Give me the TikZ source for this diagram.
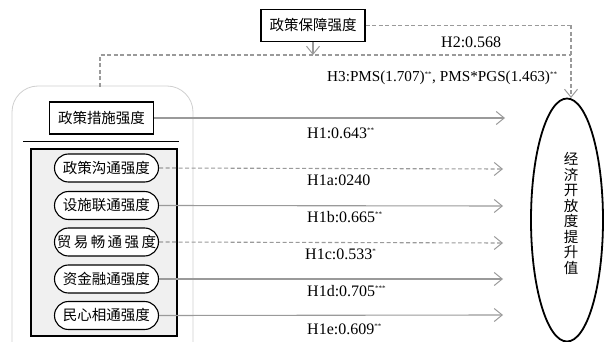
\documentclass[tikz,border=0pt]{standalone}
\usepackage{fontspec}
\setmainfont{Liberation Serif}
\newfontfamily\cjk{Noto Sans CJK SC}
\usetikzlibrary{arrows.meta,shapes.misc,shapes.geometric}
\definecolor{conncol}{HTML}{9A9A9A}
\definecolor{panelfill}{HTML}{F0F0F0}
\definecolor{outerline}{HTML}{CFCFCF}
\newcommand{\sups}[1]{\textsuperscript{\scriptsize #1}}
\tikzset{
  conn/.style={draw=conncol, line width=1.1pt, -{Straight Barb[length=8pt,width=13pt,line width=1pt]}},
  dconn/.style={conn, dash pattern=on 4pt off 2.5pt},
  dline/.style={draw=conncol, line width=1.1pt, dash pattern=on 4pt off 2.5pt},
  sqbox/.style={draw=black, line width=1.1pt, fill=white, minimum width=104pt, minimum height=32pt, inner sep=2pt, font=\cjk\fontsize{14.5}{16}\selectfont},
  pill/.style={draw=black, line width=1.1pt, fill=white, rounded rectangle, minimum width=106pt, minimum height=28pt, inner sep=1pt, font=\cjk\fontsize{14.5}{16}\selectfont},
  lab/.style={font=\fontsize{16}{18}\selectfont, inner sep=0pt}
}
\begin{document}
\begin{tikzpicture}[x=1pt,y=-1pt]
\useasboundingbox (0,0) rectangle (606,342);
% outer rounded panel
\draw[outerline, line width=0.8pt, rounded corners=26pt] (12,86) rectangle (193,370);
% separator line
\draw[black, line width=1pt] (23,142) -- (179,142);
% grey panel
\draw[black, line width=1.5pt, fill=panelfill] (31,149) rectangle (177,336);

\node[sqbox] (pgs) at (313,25.5) {政策保障强度};
\node[sqbox] (pms) at (101.5,118) {政策措施强度};

\node[pill] (p1) at (106.5,168) {政策沟通强度};
\node[pill] (p2) at (106.5,205.5) {设施联通强度};
\node[pill] (p3) at (106.5,242) {贸\,易\,畅\,通\,强\,度};
\node[pill] (p4) at (106.5,279) {资金融通强度};
\node[pill] (p5) at (106.5,315.5) {民心相通强度};

\node[draw=black, line width=1.8pt, ellipse, minimum width=72pt, minimum height=243pt, inner sep=0pt] (eco) at (567,220) {};
\node[font=\cjk\fontsize{14.5}{16}\selectfont, align=center, inner sep=0pt] (ecot) at (571,213.5)
  {经\\[-0.5pt]济\\[-0.5pt]开\\[-0.5pt]放\\[-0.5pt]度\\[-0.5pt]提\\[-0.5pt]升\\[-0.5pt]值};

% coordinates for connectors
\coordinate (c1) at (505,118);
\coordinate (c2) at (503,169);
\coordinate (c3) at (503,206);
\coordinate (c4) at (503,243);
\coordinate (c5) at (503,279);
\coordinate (c6) at (503,315);
\coordinate (tr) at (571,25.5);
\coordinate (mr) at (571,55);
\coordinate (ml) at (100,55);
\coordinate (mb) at (100,87);
\coordinate (pgsb) at (313,55);
\coordinate (ecotop) at (571,98);

\draw[conn] (pms.east) -- (c1);
\draw[dconn] (p1.east) -- (c2);
\draw[conn] (p2.east) -- (c3);
\draw[dconn] (p3.east) -- (c4);
\draw[conn] (p4.east) -- (c5);
\draw[conn] (p5.east) -- (c6);

\draw[dline] (pgs.east) -- (tr);
\draw[dconn] (tr) -- (ecotop);
\draw[dline] (mb) -- (ml) -- (mr);
\draw[conn] (pgs.south) -- (pgsb);

\node[lab, anchor=west] (h2) at (441,42) {H2:0.568};
\node[lab, anchor=west, font=\fontsize{15.2}{17}\selectfont] (h3) at (327,78) {H3:PMS(1.707)\sups{**}, PMS*PGS(1.463)\sups{**}};
\node[lab, anchor=west] (h1) at (307,133) {H1:0.643\sups{**}};
\node[lab, anchor=west] (h1a) at (307,180) {H1a:0240};
\node[lab, anchor=west] (h1b) at (307,217) {H1b:0.665\sups{**}};
\node[lab, anchor=west] (h1c) at (305,254) {H1c:0.533\sups{*}};
\node[lab, anchor=west] (h1d) at (307,291) {H1d:0.705\sups{***}};
\node[lab, anchor=west] (h1e) at (307,329) {H1e:0.609\sups{**}};
\end{tikzpicture}
\end{document}
